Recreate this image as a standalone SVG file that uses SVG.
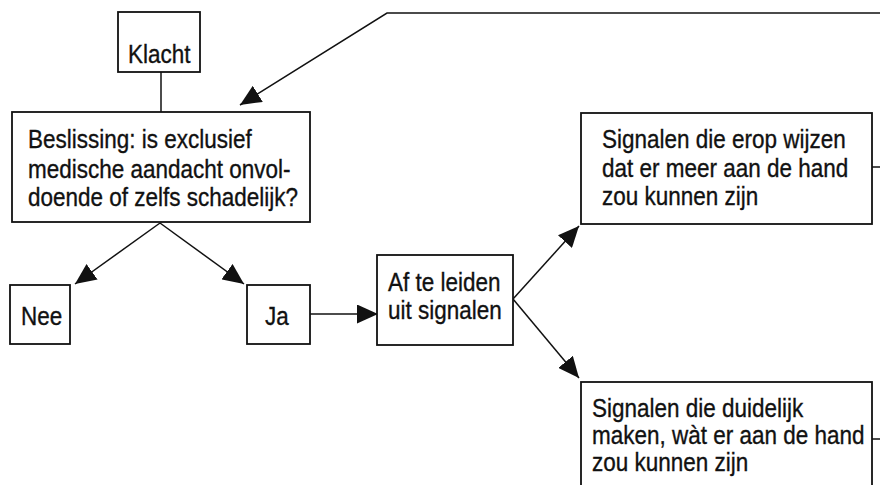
<svg xmlns="http://www.w3.org/2000/svg" width="880" height="485" viewBox="0 0 880 485">
<style>
.box{fill:#fff;stroke:#111;stroke-width:1.8}
.t{font-family:"Liberation Sans",Arial,sans-serif;font-size:22.5px;fill:#111;stroke:#111;stroke-width:0.3}
.c{fill:none;stroke:#111;stroke-width:1.5}
</style>
<defs>
<marker id="ah" viewBox="0 0 21 19" refX="21" refY="9.5" markerWidth="21" markerHeight="19" markerUnits="userSpaceOnUse" orient="auto">
<path d="M0,0 L21,9.5 L0,19 Z" fill="#111"/>
</marker>
</defs>
<rect width="880" height="485" fill="#fff"/>
<g id="connectors">
<line class="c" x1="161" y1="72" x2="161" y2="112"/>
<polyline class="c" points="880,13 387,13 240,105" marker-end="url(#ah)"/>
<line class="c" x1="160" y1="223" x2="75" y2="284" marker-end="url(#ah)"/>
<line class="c" x1="160" y1="223" x2="244" y2="284" marker-end="url(#ah)"/>
<line class="c" x1="310" y1="314" x2="378" y2="314" marker-end="url(#ah)"/>
<line class="c" x1="513" y1="299" x2="579" y2="226" marker-end="url(#ah)"/>
<line class="c" x1="513" y1="299" x2="579" y2="378" marker-end="url(#ah)"/>
<line class="c" x1="872" y1="167" x2="880" y2="167"/>
<line class="c" x1="872" y1="439" x2="880" y2="439"/>
</g>
<g id="klacht">
<rect class="box" x="118" y="12" width="82" height="60"/>
<text class="t" transform="translate(128,63) scale(1,1.15)">Klacht</text>
</g>
<g id="beslissing">
<rect class="box" x="12" y="112" width="298" height="110"/>
<text class="t" transform="translate(28,148) scale(1,1.15)">Beslissing: is exclusief</text>
<text class="t" transform="translate(28,178) scale(1,1.15)">medische aandacht onvol-</text>
<text class="t" transform="translate(28,206) scale(1,1.15)">doende of zelfs schadelijk?</text>
</g>
<g id="nee">
<rect class="box" x="10" y="285" width="60" height="59"/>
<text class="t" transform="translate(21,325) scale(1,1.15)">Nee</text>
</g>
<g id="ja">
<rect class="box" x="247" y="285" width="63" height="59"/>
<text class="t" transform="translate(265,325) scale(1,1.15)">Ja</text>
</g>
<g id="afleiden">
<rect class="box" x="377" y="255" width="136" height="90"/>
<text class="t" transform="translate(388,291) scale(1,1.15)">Af te leiden</text>
<text class="t" transform="translate(388,319) scale(1,1.15)">uit signalen</text>
</g>
<g id="signalen1">
<rect class="box" x="581" y="113" width="291" height="111"/>
<text class="t" transform="translate(602,148) scale(1,1.15)">Signalen die erop wijzen</text>
<text class="t" transform="translate(602,177) scale(1,1.15)">dat er meer aan de hand</text>
<text class="t" transform="translate(602,205) scale(1,1.15)">zou kunnen zijn</text>
</g>
<g id="signalen2">
<rect class="box" x="581" y="382" width="291" height="110"/>
<text class="t" transform="translate(592,417) scale(1,1.15)">Signalen die duidelijk</text>
<text class="t" transform="translate(592,444) scale(1,1.15)">maken, wàt er aan de hand</text>
<text class="t" transform="translate(592,471) scale(1,1.15)">zou kunnen zijn</text>
</g>
</svg>
